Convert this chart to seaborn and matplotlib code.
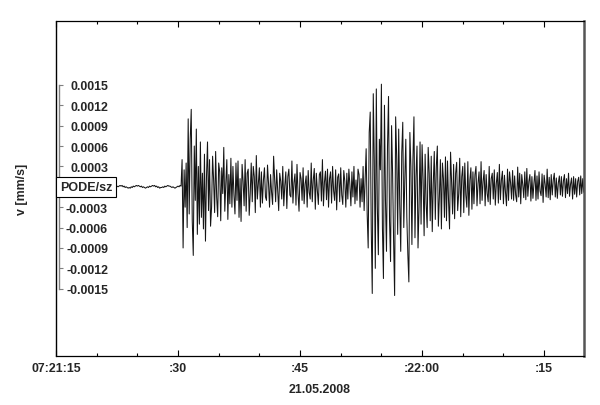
import numpy as np
import matplotlib
matplotlib.use("Agg")
import matplotlib.pyplot as plt
import seaborn as sns
from matplotlib.ticker import FixedLocator, FixedFormatter, MultipleLocator

# =========================
# DATA (velocity in 1e-5 mm/s, one sample every 0.125 s from 07:21:15)
# =========================

sample_step = 0.125

noise_before = [
    1, 0, 2, 1, -1, 0, 1, 2, 1, 1, 0, -1,
    -1, 0, -2, -1, 0, 1, 0, 2, 1, 2, 1, 0,
    1, -1, 0, -1, -2, -1, -1, 0, 1, 0, 2, 1,
    0, 1, -1, 0, -1, -1, -2, 0, -1, 1, 0, 1,
    2, 1, 2, 0, 1, -1, 0, -1, -2, -1, 0, -1,
    1, 0, 1, 2, 1, 2, 0, 1, -1, 0, -1, -2,
    -1, -2, 0, -1, 1, 0, 1, 2, 1, 2, 1, 0,
    1, -1, 0, -1, -2, -1, 0, -1, 1, 0, 1, 2,
    1, 2, 0, 1, -1, 0, -2, -1, -1, 0, -1, 1,
    0, 1, 2, 1, 1, 0, -1, 0, -1, -2, -1, 0,
    1, 0, 2, 1,
]

p_wave = [
    40, -90, 25, -30, 35,
    -60, 100, -40, 70, 114, -50, -101, 60, -20, 85, -70, 30, -55,
    66, -45, 20, -62, 48, -80, 15, 66, -35, 40, -58,
    -30, 45, 10, -38, 52, -15, -44, 35, 22, -50,
    28, -10, 58, -36, 5, 40, -48, 18, -25, 42,
    -30, 30, -12, -40, 35,
    -20, 38, -45, 12, -51, 33, 8, -28, 40, -36,
    20, 26, -42, -10, 35, -22, 30, 15, -38, 46,
    -18, 5, 28, -30, 22,
    -24, 10, 28, -15, -20, 32, 5, -30, 18, -8, -26, 45, 12, -22, 25, -5, -35, 20, 8, -18,
    30, -28, 2, 22, -32, 15, 26, -12, -15, 38, -24, 6, 19, -27, 33, -10, -36, 21, 12, -20,
    28, -25, 4, 16, -30, 24, -8, -18, 35, -22, 10, 27, -33, 20, -5, -26, 18, 22, -21, 40,
    -28, 7, 23, -19, 26, -30, 12, 22, -24, 30, -6, -20, 25, -34, 14, 19, -22, 28, -12, -26,
    24, 8, -30, 20, -18, 26, 3, -28, 22, -15, 30, -25, 10, -20, 26, 18, -30, 12, -22,
]

s_wave = [
    30, -35, 12, 56, -40, -90, 80,
    110, -60, -157, 137, 40, -120, 144, -30, -100, 70,
    25, 151, -60, -135, 120, -20, -95, 60, 133, -50,
    -110, 90, 20, -80, -160, 103, 45, -70, 85, -25,
    -95, 50, 95, -60, 10, 70, -45, -100, -140, 80,
    30, -85, 40, 103, -75, 15, 60, -90, -30, 66,
    -55,
    62, 10, -72, 48, -25, -60, 58, 20, -50, 45,
    -66, 5, 52, -48, 30, 60, -58, -15, 40, -62,
    35, 12, -45, 44, -50,
    38, -20, -62, 51, 8, -40, 33, -47, 20, 36,
    -35, -10, 42, -44, 15, 30, -38, 35, -12, -30,
    37, -42, 10, 28, -33, 22, -25, 18, 30, -28,
    5,
    22, -25, 37, -20, 8, 24, -28, 18, -10, -22,
    30, -26, 12, 20, -18, 25, -27, 5, 21, -24,
    33, -19, 10, 23, -25, 17, -8, -28, 26, -20,
    22, 6, -18, 24, -20, 16, -12, -22, 29, -15,
    20,
    -25, 18, 3, -16, 22, -19, 27, -14, 8, 18, -21, 15, -17, 5, 24, -20, 16, -18, 22, -6,
    -13, 19, -23, 17, 4, -15, 26, -16, 14, -19, 18, -12, 10, 20, -15, 13, -17, 6, 16, -12,
    15, -14, 9, 18, -16, 12, -10, 20, -14, 4, 13, -18, 15, -11, 12, -15, 8, 14, -12, 16,
    -10, 12, -8,
]

x_tick_values = [0, 15, 30, 45, 60]
x_tick_labels = ["07:21:15", ":30", ":45", ":22:00", ":15"]

y_tick_values = [0.0015, 0.0012, 0.0009, 0.0006, 0.0003,
                 -0.0003, -0.0006, -0.0009, -0.0012, -0.0015]
y_tick_labels = ["0.0015", "0.0012", "0.0009", "0.0006", "0.0003",
                 "-0.0003", "-0.0006", "-0.0009", "-0.0012", "-0.0015"]

station = "PODE/sz"
date_label = "21.05.2008"

# =========================
# BUILD TRACE
# =========================

velocity = np.array(noise_before + p_wave + s_wave) * 1e-5
seconds = np.arange(len(velocity)) * sample_step

# =========================
# PLOT
# =========================

sns.set_style("white")
plt.rcParams["font.family"] = ["Liberation Sans", "DejaVu Sans"]
plt.rcParams["font.weight"] = "bold"

fig = plt.figure(figsize=(6, 4.06), dpi=100)
ax = fig.add_axes([0.0933, 0.1207, 0.88, 0.8251])

sns.lineplot(x=seconds, y=velocity, ax=ax, color="#151515", linewidth=0.75)

ax.set_xlim(0, 64.9)
ax.set_ylim(-0.00249, 0.00244)

# x axis
ax.xaxis.set_major_locator(FixedLocator(x_tick_values))
ax.xaxis.set_major_formatter(FixedFormatter(x_tick_labels))
ax.xaxis.set_minor_locator(MultipleLocator(5))
ax.tick_params(axis="x", which="both", direction="in", top=True, bottom=True,
               color="black", labelsize=8.9, pad=4)
ax.tick_params(axis="x", which="major", length=4.3, width=0.8)
ax.tick_params(axis="x", which="minor", length=2.2, width=0.8)
ax.set_xlabel(date_label, fontsize=8.9, fontweight="bold")
ax.xaxis.set_label_coords(0.5, -0.08)

# y axis as a short bracket inside the frame
ax.spines["left"].set_position(("outward", -2.2))
ax.spines["left"].set_bounds(-0.0015, 0.0015)
ax.spines["left"].set_color("#808080")
ax.spines["left"].set_linewidth(1.0)
ax.yaxis.set_major_locator(FixedLocator(y_tick_values))
ax.yaxis.set_major_formatter(FixedFormatter(y_tick_labels))
ax.tick_params(axis="y", which="major", direction="in", left=True, length=3,
               width=0.8, color="#808080", labelsize=8.9, pad=-35.3)
ax.set_ylabel("v [mm/s]", fontsize=8.9, fontweight="bold")
ax.yaxis.set_label_coords(-0.053, 0.5)

# frame
ax.axvline(0, color="black", linewidth=1.0, clip_on=False, zorder=6)
for side in ["top", "bottom"]:
    ax.spines[side].set_color("black")
    ax.spines[side].set_linewidth(0.9)
ax.spines["right"].set_color("#555555")
ax.spines["right"].set_linewidth(1.8)
ax.spines["right"].set_visible(True)
ax.spines["top"].set_visible(True)
ax.spines["bottom"].set_visible(True)

# station tag
ax.annotate(station, xy=(0, 0), xytext=(3, 0), textcoords="offset points",
            ha="left", va="center", fontsize=9, fontweight="bold", zorder=7,
            bbox=dict(boxstyle="square,pad=0.3", fc="white", ec="black", lw=0.8))

fig.savefig("out.png", dpi=100)
